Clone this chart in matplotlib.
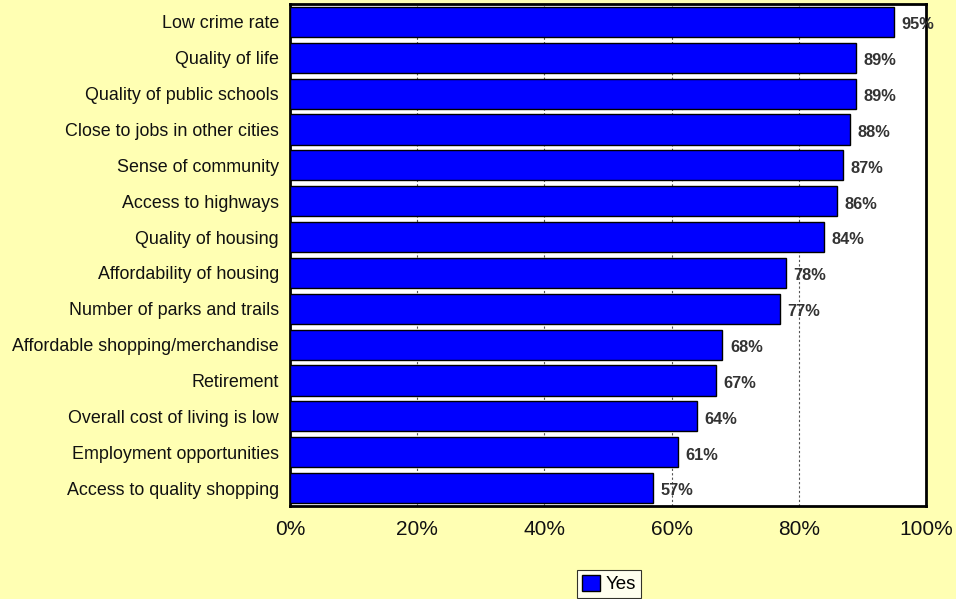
import matplotlib
matplotlib.use("Agg")
import matplotlib.pyplot as plt
from matplotlib.ticker import FuncFormatter

categories = [
    "Low crime rate",
    "Quality of life",
    "Quality of public schools",
    "Close to jobs in other cities",
    "Sense of community",
    "Access to highways",
    "Quality of housing",
    "Affordability of housing",
    "Number of parks and trails",
    "Affordable shopping/merchandise",
    "Retirement",
    "Overall cost of living is low",
    "Employment opportunities",
    "Access to quality shopping",
]
yes_values = [95, 89, 89, 88, 87, 86, 84, 78, 77, 68, 67, 64, 61, 57]
x_ticks = [0, 20, 40, 60, 80, 100]
series_name = "Yes"

plt.rcParams["font.family"] = ["Liberation Sans", "DejaVu Sans"]

W, H = 956, 599
fig = plt.figure(figsize=(W / 100, H / 100), dpi=100, facecolor="#FFFFB3")
ax = fig.add_axes([290 / W, 1 - 506 / H, (926 - 290) / W, (506 - 4) / H])
ax.set_facecolor("white")

y = list(range(len(categories)))
bars = ax.barh(y, yes_values, height=0.84, color="#0000FF",
               edgecolor="black", linewidth=1.0, label=series_name, zorder=3)

for yi, v in zip(y, yes_values):
    ax.text(v + 1.2, yi + 0.08, f"{v}%", va="center", ha="left",
            fontsize=11.8, fontweight="bold", color="#333333", zorder=4)

ax.set_xlim(0, 100)
ax.set_ylim(len(categories) - 0.5, -0.5)
ax.set_yticks(y)
ax.set_yticklabels(categories, fontsize=12.9, color="#111111")
ax.set_xticks(x_ticks)
ax.xaxis.set_major_formatter(FuncFormatter(lambda v, _: f"{v:.0f}%"))
ax.tick_params(axis="x", labelsize=15, length=0, pad=10, colors="#111111")
ax.tick_params(axis="y", length=0, pad=8)

ax.grid(axis="x", color="#555555", linestyle=(0, (2, 2)), linewidth=0.8, zorder=1)
for s in ax.spines.values():
    s.set_linewidth(2)
    s.set_color("black")

leg = fig.legend(handles=[bars], labels=[series_name], loc="center",
                 bbox_to_anchor=(609 / W, 1 - 584 / H), frameon=True,
                 fancybox=False, edgecolor="black", fontsize=13.5,
                 handlelength=1.0, handleheight=1.0, handletextpad=0.3,
                 borderpad=0.25, borderaxespad=0)
leg.get_frame().set_linewidth(0.8)

fig.savefig("out.png", dpi=100, facecolor=fig.get_facecolor())
